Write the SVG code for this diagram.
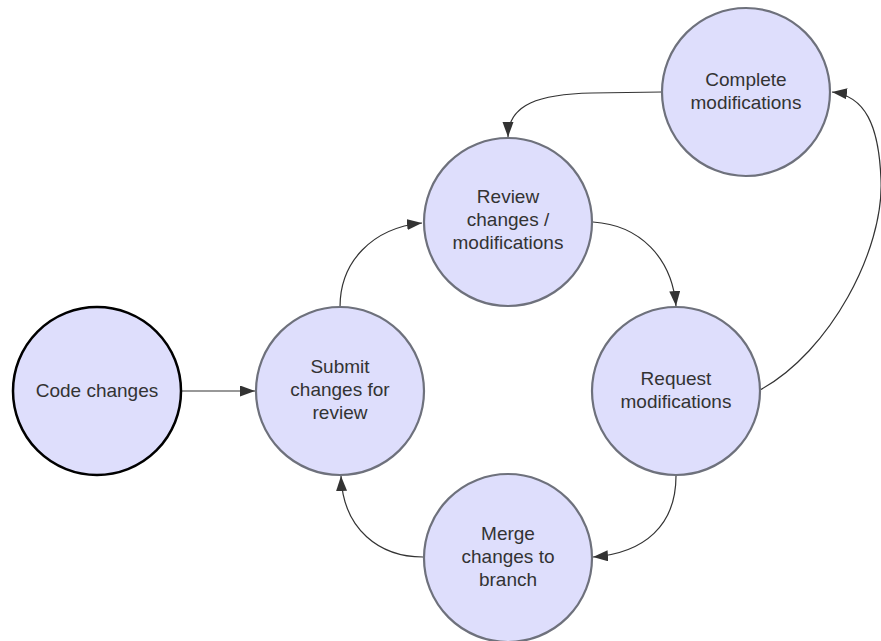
<svg xmlns="http://www.w3.org/2000/svg" width="881" height="641" viewBox="0 0 881 641">
<defs>
<marker id="arr" markerUnits="userSpaceOnUse" markerWidth="16" markerHeight="12" refX="15" refY="5.5" orient="auto">
<path d="M0,0 L15,5.5 L0,11 z" fill="#333333"/>
</marker>
</defs>
<style>
.node circle{fill:#dedefc;stroke:#6e717c;stroke-width:2.2}
#code circle{stroke:#000000;stroke-width:2.5}
.node text{font-family:"Liberation Sans",Arial,sans-serif;font-size:19px;fill:#333333;text-anchor:middle}
#edges path{fill:none;stroke:#333333;stroke-width:1.2;marker-end:url(#arr)}
</style>
<rect width="881" height="641" fill="#ffffff"/>
<g id="edges">
<path d="M182,391 L255,391"/>
<path d="M340,307 C340,262 372,228 422,223"/>
<path d="M593,222 C640,225 672,258 676,306"/>
<path d="M676,476 C676,525 645,553 593,557"/>
<path d="M423,557 C380,557 343,530 341,476"/>
<path d="M760,390 C830,352 884,250 881,180 C879,125 865,96 832,92"/>
<path d="M662,92 L592,93 C540,94 508,104 508,137"/>
</g>
<g id="code" class="node">
<circle cx="97" cy="391" r="84"/>
<text x="97" y="397">Code changes</text>
</g>
<g id="submit" class="node">
<circle cx="340" cy="391" r="84"/>
<text x="340" y="373">Submit</text>
<text x="340" y="396">changes for</text>
<text x="340" y="419">review</text>
</g>
<g id="review" class="node">
<circle cx="508" cy="222" r="84"/>
<text x="508" y="203">Review</text>
<text x="508" y="226">changes /</text>
<text x="508" y="249">modifications</text>
</g>
<g id="complete" class="node">
<circle cx="746" cy="92" r="84"/>
<text x="746" y="86">Complete</text>
<text x="746" y="109">modifications</text>
</g>
<g id="request" class="node">
<circle cx="676" cy="391" r="84"/>
<text x="676" y="385">Request</text>
<text x="676" y="408">modifications</text>
</g>
<g id="merge" class="node">
<circle cx="508" cy="558" r="84"/>
<text x="508" y="540">Merge</text>
<text x="508" y="563">changes to</text>
<text x="508" y="586">branch</text>
</g>
</svg>
